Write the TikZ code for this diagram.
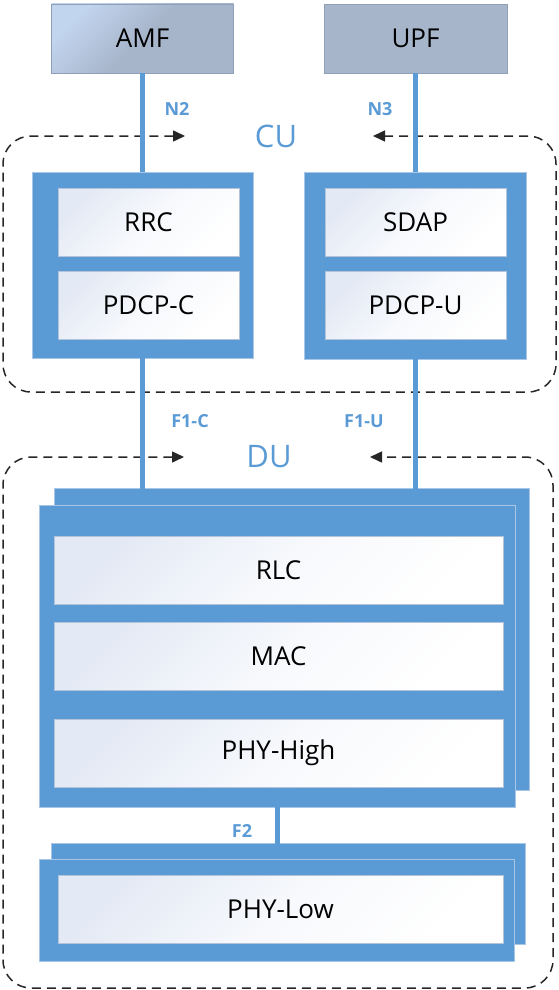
\documentclass[tikz,border=0pt]{standalone}
\usepackage{fontspec}
\setmainfont{Open Sans}
\usetikzlibrary{arrows.meta, positioning}
\definecolor{ranblue}{HTML}{5B9BD5}
\definecolor{ranedge}{HTML}{A9C6E6}
\definecolor{layertint}{HTML}{E4EAF5}
\definecolor{layeredge}{HTML}{B3C3DA}
\definecolor{coregray}{HTML}{A7B5CB}
\definecolor{corelight}{HTML}{C2D5EE}
\definecolor{coreedge}{HTML}{8E9FBA}
\tikzset{
  corebox/.style={rectangle, minimum width=182pt, minimum height=69pt, inner sep=0pt,
    fill=coregray, draw=coreedge, line width=0.6pt, font=\fontsize{26}{30}\selectfont},
  hostbox/.style={rectangle, inner sep=0pt, fill=ranblue, draw=ranedge, line width=0.6pt},
  layerbox/.style={rectangle, inner sep=0pt, minimum height=68pt, draw=layeredge, line width=0.6pt,
    top color=layertint, bottom color=white, middle color=layertint!30!white, shading angle=45,
    font=\fontsize{26}{30}\selectfont},
  iflabel/.style={text=ranblue, font=\bfseries\fontsize{18}{20}\selectfont},
  grouplabel/.style={text=ranblue, font=\fontsize{31}{34}\selectfont},
  link/.style={ranblue, line width=5pt},
  groupframe/.style={black!85, line width=1.5pt, dash pattern=on 9pt off 6pt, rounded corners=28pt,
    {Triangle[length=12pt,width=11pt]}-{Triangle[length=12pt,width=11pt]}}
}
\begin{document}
\begin{tikzpicture}[x=1pt, y=-1pt]
  \useasboundingbox (0,0) rectangle (558,990);
  % CU and DU frames
  \draw[groupframe] (185,136) -- (3,136) -- (3,392) -- (556,392) -- (556,136) -- (373,136);
  \draw[groupframe] (184,457) -- (3,457) -- (3,988) -- (553,988) -- (553,457) -- (370,457);
  \node[grouplabel] (culabel) at (276,136) {CU};
  \node[grouplabel] (dulabel) at (269,457) {DU};
  % core
  \node[corebox, top color=corelight, bottom color=coregray, middle color=coregray, shading angle=45]
        (amf) at (142.5,38.5) {AMF};
  \node[corebox, minimum width=183pt] (upf) at (415.5,38.5) {UPF};
  % CU-C / CU-U
  \node[hostbox, minimum width=221pt, minimum height=186pt] (cuc) at (142.5,265) {};
  \node[layerbox, minimum width=181pt, below right=16pt and 26pt of cuc.north west] (rrc) {RRC};
  \node[layerbox, minimum width=181pt, below=15pt of rrc] (pdcpc) {PDCP-C};
  \node[hostbox, minimum width=222pt, minimum height=187pt] (cuu) at (415,265.5) {};
  \node[layerbox, minimum width=181pt, below right=16pt and 21pt of cuu.north west] (sdap) {SDAP};
  \node[layerbox, minimum width=181pt, below=15pt of sdap] (pdcpu) {PDCP-U};
  % DU
  \node[hostbox, minimum width=475pt, minimum height=302pt] (duback) at (291.5,639) {};
  \node[hostbox, minimum width=476pt, minimum height=302pt] (du) at (277,656) {};
  \node[layerbox, minimum width=449pt, below right=31pt and 15pt of du.north west] (rlc) {RLC};
  \node[layerbox, minimum width=449pt, below=18pt of rlc] (mac) {MAC};
  \node[layerbox, minimum width=449pt, below=28pt of mac] (phyhigh) {PHY-High};
  \node[hostbox, minimum width=474pt, minimum height=101pt] (lowback) at (288,893.5) {};
  \node[hostbox, minimum width=475pt, minimum height=102pt] (low) at (276.5,910) {};
  \node[layerbox, minimum width=445pt, below right=16pt and 19pt of low.north west] (phylow) {PHY-Low};
  % interfaces
  \draw[link] (amf) -- (cuc);
  \draw[link] (upf.south) -- (upf.south |- cuu.north);
  \draw[link] (cuc) -- (cuc |- du.north);
  \draw[link] (cuu) -- (cuu |- du.north);
  \draw[link] (du.south) -- (du.south |- low.north);
  \node[iflabel] (n2)  at (177,109) {N2};
  \node[iflabel] (n3)  at (380,109) {N3};
  \node[iflabel] (f1c) at (190,421) {F1-C};
  \node[iflabel] (f1u) at (364,421) {F1-U};
  \node[iflabel] (f2)  at (242,831) {F2};
\end{tikzpicture}
\end{document}
